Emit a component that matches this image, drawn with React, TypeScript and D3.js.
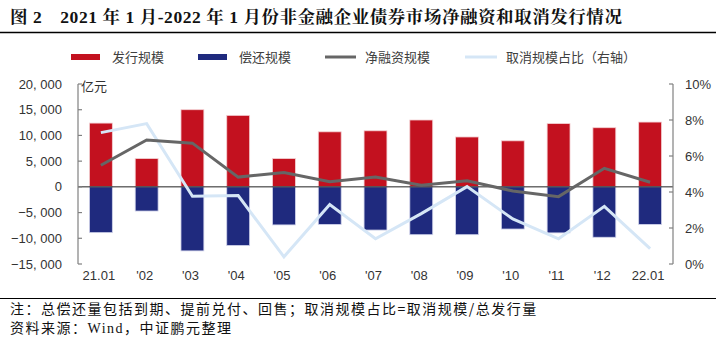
import React from "react";
import * as d3 from "d3";

const categories = ["21.01", "'02", "'03", "'04", "'05", "'06", "'07", "'08", "'09", "'10", "'11", "'12", "22.01"];
const issuance = [12400, 5500, 15000, 13900, 5500, 10700, 10900, 13000, 9700, 8950, 12300, 11500, 12600];
const repayment = [-8900, -4700, -12450, -11400, -7400, -7300, -8400, -9300, -9300, -8200, -8950, -9800, -7300];
const netFinancing = [4200, 9100, 8500, 1900, 2800, 1000, 1900, 300, 1200, -800, -1900, 3600, 900];
const cancelRatio = [7.3, 7.8, 3.76, 3.8, 0.4, 3.3, 1.4, 2.8, 4.3, 2.5, 1.4, 3.2, 0.85];
const leftTicks = [-15000, -10000, -5000, 0, 5000, 10000, 15000, 20000];
const rightTicks = [0, 2, 4, 6, 8, 10];

const W = 716, H = 345;
const X0 = 78, X1 = 673, YT = 84, YB = 264;
const RED = "#C3111F", BLUE = "#1F2A7E", GRAY = "#666666", LBLUE = "#D5E6F6";
const CJK = "'Noto Sans CJK SC', sans-serif";

export default function App() {
  const x = d3.scaleBand<string>().domain(categories).range([X0, X1]).paddingInner(0.5).paddingOuter(0.25);
  const yL = d3.scaleLinear().domain([-15000, 20000]).range([YB, YT]);
  const yR = d3.scaleLinear().domain([0, 10]).range([YB, YT]);
  const cx = (c: string) => (x(c) as number) + x.bandwidth() / 2;
  const netLine = d3.line<number>().x((_, i) => cx(categories[i])).y(d => yL(d));
  const ratioLine = d3.line<number>().x((_, i) => cx(categories[i])).y(d => yR(d));
  const fmt = (v: number) => d3.format(",")(v).replace(",", ", ").replace("-", "−");

  return (
    <svg width={W} height={H} style={{ position: "absolute", left: 0, top: 0, background: "#fff" }}>
      <text x={10} y={23} fontFamily="'Liberation Serif', 'Noto Serif CJK SC', 'Noto Sans CJK SC', serif" fontWeight="bold" fontSize={17.5} fill="#111" style={{ letterSpacing: "0.55px" }}>
        图 2　2021 年 1 月-2022 年 1 月份非金融企业债券市场净融资和取消发行情况
      </text>
      <line x1={0} x2={W} y1={32.5} y2={32.5} stroke="#000" strokeWidth={1.5} />

      {/* legend */}
      <g fontFamily={CJK} fontSize={13} fill="#404040">
        <rect x={71} y={54} width={29} height={6} fill={RED} />
        <text x={112} y={62}>发行规模</text>
        <rect x={198} y={54} width={29} height={6} fill={BLUE} />
        <text x={239} y={62}>偿还规模</text>
        <line x1={325} x2={356} y1={57} y2={57} stroke={GRAY} strokeWidth={3} />
        <text x={365} y={62}>净融资规模</text>
        <line x1={465} x2={497} y1={57} y2={57} stroke={LBLUE} strokeWidth={3} />
        <text x={506} y={62}>取消规模占比（右轴）</text>
      </g>

      {/* bars */}
      {categories.map((c, i) => (
        <g key={c}>
          <rect x={x(c)} y={yL(issuance[i])} width={x.bandwidth()} height={yL(0) - yL(issuance[i])} fill={RED} stroke="#f3d0d3" strokeWidth={0.8} />
          <rect x={x(c)} y={yL(0)} width={x.bandwidth()} height={yL(repayment[i]) - yL(0)} fill={BLUE} stroke="#d0d3ea" strokeWidth={0.8} />
        </g>
      ))}

      <line x1={X0} x2={X1} y1={yL(0)} y2={yL(0)} stroke="#222" strokeWidth={1} />

      <path d={ratioLine(cancelRatio) as string} fill="none" stroke={LBLUE} strokeWidth={3} />
      <path d={netLine(netFinancing) as string} fill="none" stroke={GRAY} strokeWidth={3} />

      {/* left axis */}
      <g fontFamily="'Liberation Sans', Arial, sans-serif" fontSize={13} fill="#333">
        <line x1={X0} x2={X0} y1={YT} y2={YB} stroke="#808080" strokeWidth={1.2} />
        {leftTicks.map(t => (
          <g key={t}>
            <line x1={X0} x2={X0 + 4} y1={yL(t)} y2={yL(t)} stroke="#808080" strokeWidth={1.2} />
            <text x={62} y={yL(t) + 4.5} textAnchor="end">{fmt(t)}</text>
          </g>
        ))}
        <text x={81} y={91} fontFamily={CJK} fontSize={13}>亿元</text>
      </g>

      {/* right axis */}
      <g fontFamily="'Liberation Sans', Arial, sans-serif" fontSize={13} fill="#333">
        <line x1={X1} x2={X1} y1={YT} y2={YB} stroke="#808080" strokeWidth={1.2} />
        {rightTicks.map(t => (
          <g key={t}>
            <line x1={X1 - 4} x2={X1} y1={yR(t)} y2={yR(t)} stroke="#808080" strokeWidth={1.2} />
            <text x={685} y={yR(t) + 4.5}>{t}%</text>
          </g>
        ))}
      </g>

      {/* x labels */}
      <g fontFamily="'Liberation Sans', Arial, sans-serif" fontSize={13} fill="#333">
        {categories.map(c => (
          <text key={c} x={cx(c) - 2} y={280} textAnchor="middle">{c}</text>
        ))}
      </g>

      <line x1={0} x2={W} y1={298.5} y2={298.5} stroke="#000" strokeWidth={1.2} />
      <g fontFamily={CJK} fontSize={14} fill="#111" style={{ letterSpacing: "1.5px" }}>
        <text x={10} y={314}>注：总偿还量包括到期、提前兑付、回售；取消规模占比=取消规模/总发行量</text>
        <text x={10} y={333}>资料来源：<tspan fontFamily="'Liberation Serif', serif">Wind</tspan>，中证鹏元整理</text>
      </g>
    </svg>
  );
}
